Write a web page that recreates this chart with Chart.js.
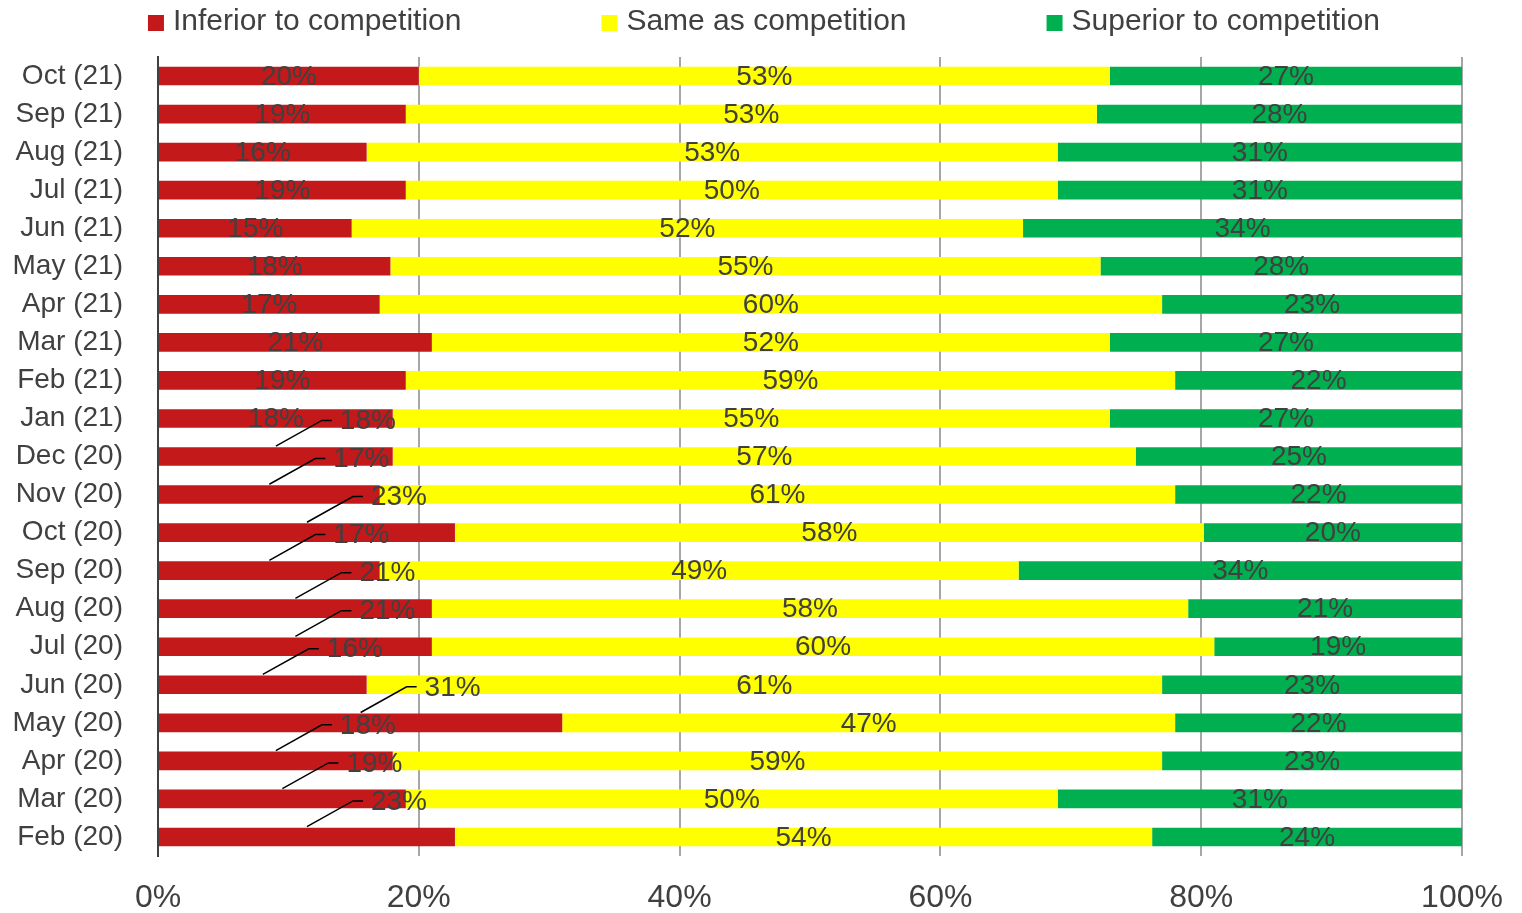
<!DOCTYPE html>
<html>
<head>
<meta charset="utf-8">
<title>Competitive position</title>
<script src="https://cdn.jsdelivr.net/npm/chart.js@4.4.1/dist/chart.umd.min.js"></script>
<style>
    body { margin: 0; background: #fff; }
    #wrap { width: 1522px; height: 913px; position: relative; }
</style>
</head>
<body>
<div id="wrap"><canvas id="chart"></canvas></div>
<script>
// Survey months, top row first
const months = ['Oct (21)', 'Sep (21)', 'Aug (21)', 'Jul (21)', 'Jun (21)', 'May (21)', 'Apr (21)',
    'Mar (21)', 'Feb (21)', 'Jan (21)', 'Dec (20)', 'Nov (20)', 'Oct (20)', 'Sep (20)', 'Aug (20)',
    'Jul (20)', 'Jun (20)', 'May (20)', 'Apr (20)', 'Mar (20)', 'Feb (20)'];

// Answers in percent
const inferior = [20, 19, 16, 19, 15, 18, 17, 21, 19, 18, 18, 17, 23, 17, 21, 21, 16, 31, 18, 19, 23];
const same     = [53, 53, 53, 50, 52, 55, 60, 52, 59, 55, 57, 61, 58, 49, 58, 60, 61, 47, 59, 50, 54];
const superior = [27, 28, 31, 31, 34, 28, 23, 27, 22, 27, 25, 22, 20, 34, 21, 19, 23, 22, 23, 31, 24];

const xTicks = [0, 20, 40, 60, 80, 100];

// From this row down the red labels were pulled out one row up, with a leader line
const leaderStart = months.indexOf('Dec (20)');

const fontFamily = '"Liberation Sans", Arial, sans-serif';
const textColor = '#404040';

// 100% stacked: scale each row to its own total
function toShare(values) {
    return values.map((v, i) => v * 100 / (inferior[i] + same[i] + superior[i]));
}

// Percent labels on the bars
const barLabels = {
    id: 'barLabels',
    afterDatasetsDraw(chart) {
        const ctx = chart.ctx;
        ctx.save();
        ctx.font = '28px ' + fontFamily;
        ctx.fillStyle = textColor;
        ctx.textBaseline = 'middle';
        chart.data.datasets.forEach((ds, d) => {
            const bars = chart.getDatasetMeta(d).data;
            bars.forEach((bar, i) => {
                const text = ds.shown[i] + '%';
                const cx = (bar.x + bar.base) / 2;
                if (d === 0 && i >= leaderStart) {
                    const above = bars[i - 1];
                    const y0 = bar.y - bar.height / 2 - 1;
                    const y1 = above.y + 2;
                    const x1 = cx + 46;
                    ctx.strokeStyle = '#000';
                    ctx.lineWidth = 1.5;
                    ctx.beginPath();
                    ctx.moveTo(cx, y0);
                    ctx.lineTo(x1, y1);
                    ctx.lineTo(x1 + 10, y1);
                    ctx.stroke();
                    ctx.textAlign = 'left';
                    ctx.fillText(text, x1 + 18, y1 + 1);
                } else {
                    ctx.textAlign = 'center';
                    ctx.fillText(text, cx, bar.y + 1);
                }
            });
        });
        ctx.restore();
    }
};

// Legend row across the top
const topLegend = {
    id: 'topLegend',
    afterDraw(chart) {
        const ctx = chart.ctx;
        const sets = chart.data.datasets;
        const gap = 140;
        ctx.save();
        ctx.font = '30px ' + fontFamily;
        ctx.textBaseline = 'middle';
        ctx.textAlign = 'left';
        const widths = sets.map(ds => 16 + 9 + ctx.measureText(ds.label).width);
        const total = widths.reduce((a, b) => a + b, 0) + gap * (sets.length - 1);
        let x = chart.width / 2 + 3 - total / 2;
        sets.forEach((ds, k) => {
            ctx.fillStyle = ds.backgroundColor;
            ctx.fillRect(x, 15, 16, 16);
            ctx.fillStyle = textColor;
            ctx.fillText(ds.label, x + 25, 22);
            x += widths[k] + gap;
        });
        ctx.restore();
    }
};

Chart.defaults.font.family = fontFamily;

new Chart(document.getElementById('chart'), {
    type: 'bar',
    data: {
        labels: months,
        datasets: [
            { label: 'Inferior to competition', data: toShare(inferior), shown: inferior, backgroundColor: '#C4191B' },
            { label: 'Same as competition', data: toShare(same), shown: same, backgroundColor: '#FFFF00' },
            { label: 'Superior to competition', data: toShare(superior), shown: superior, backgroundColor: '#00B050' }
        ]
    },
    options: {
        indexAxis: 'y',
        responsive: true,
        maintainAspectRatio: false,
        animation: false,
        layout: { padding: { top: 57, right: 60, left: 0, bottom: 0 } },
        datasets: { bar: { barPercentage: 1, categoryPercentage: 0.49, borderWidth: 0 } },
        plugins: {
            legend: { display: false },
            tooltip: { enabled: false }
        },
        scales: {
            x: {
                stacked: true,
                min: 0,
                max: 100,
                afterBuildTicks: s => { s.ticks = xTicks.map(v => ({ value: v })); },
                ticks: {
                    callback: v => v + '%',
                    color: textColor,
                    font: { size: 32 },
                    padding: 23,
                    maxRotation: 0
                },
                grid: {
                    color: c => (c.tick && c.tick.value === 0 ? textColor : '#A6A6A6'),
                    lineWidth: 2,
                    drawTicks: false
                },
                border: { display: false },
                // let the layout padding alone decide the right edge
                afterFit: s => { s.height = 57; s.paddingRight = 0; s.paddingLeft = 0; }
            },
            y: {
                stacked: true,
                ticks: {
                    color: textColor,
                    font: { size: 28 },
                    padding: 35,
                    autoSkip: false
                },
                grid: { display: false, drawTicks: false },
                border: { display: true, color: textColor, width: 2 },
                afterFit: s => { s.width = 158; }
            }
        }
    },
    plugins: [barLabels, topLegend]
});
</script>
</body>
</html>
